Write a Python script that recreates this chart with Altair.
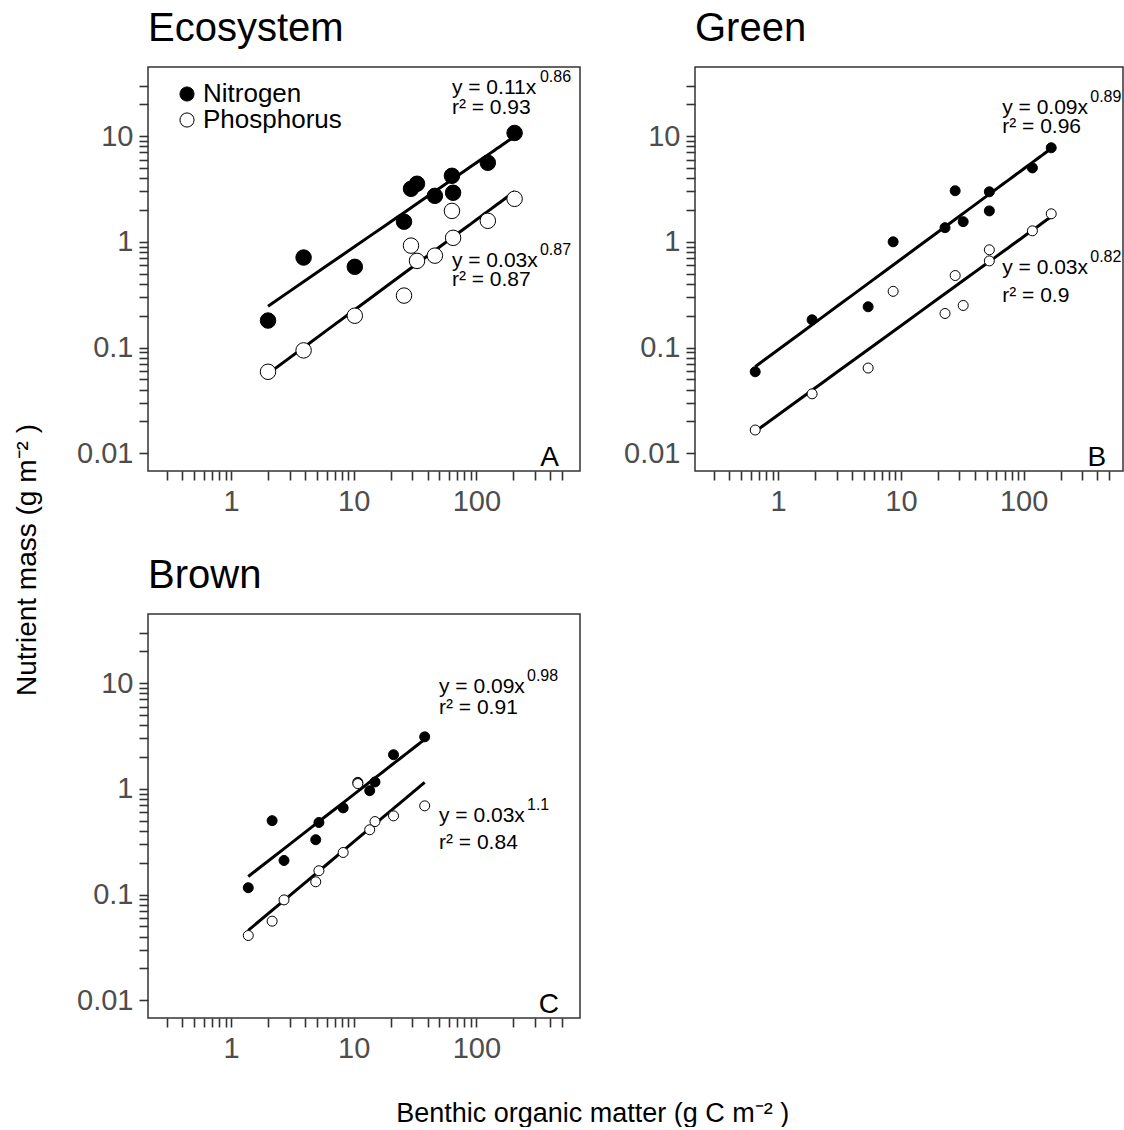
import altair as alt
import pandas as pd

FONT = "Liberation Sans, Arial, sans-serif"

# ---------------- data ----------------
# Panel A: Ecosystem
eco_x = [2.0, 3.9, 10.2, 25.7, 29.3, 32.8, 45.9, 63.2, 64.6, 124, 205]
eco_n = [0.18, 0.71, 0.58, 1.55, 3.17, 3.54, 2.72, 4.21, 2.91, 5.59, 10.7]
eco_p = [0.059, 0.094, 0.20, 0.31, 0.92, 0.66, 0.74, 1.96, 1.09, 1.58, 2.55]

# Panel B: Green
green_x = [0.65, 1.89, 5.41, 8.65, 22.9, 27.7, 32.2, 52.6, 52.6, 118, 168]
green_n = [0.059, 0.183, 0.243, 1.0, 1.36, 3.04, 1.55, 2.97, 1.96, 5.0, 7.75]
green_p = [0.0166, 0.0365, 0.064, 0.34, 0.21, 0.48, 0.25, 0.84, 0.66, 1.27, 1.84]

# Panel C: Brown
brown_x = [1.38, 2.16, 2.7, 4.9, 5.2, 8.2, 10.8, 13.5, 14.9, 21.1, 37.9]
brown_n = [0.116, 0.50, 0.21, 0.33, 0.48, 0.66, 1.15, 0.96, 1.16, 2.1, 3.1]
brown_p = [0.041, 0.056, 0.089, 0.132, 0.168, 0.25, 1.12, 0.41, 0.49, 0.555, 0.69]

panels = ["Ecosystem", "Green", "Brown"]
letters = ["A", "B", "C"]
nutrients = ["Nitrogen", "Phosphorus"]

# equation annotations (anchor in data units)
eq_panel = ["Ecosystem", "Ecosystem", "Green", "Green", "Brown", "Brown"]
eq_x = [63.2, 63.2, 67, 67, 49.6, 49.6]
eq_y1 = [25.1, 0.58, 16.3, 0.50, 8.1, 0.49]
eq_y2 = [16.3, 0.384, 10.7, 0.27, 5.1, 0.27]
eq_text = ["y = 0.11x", "y = 0.03x", "y = 0.09x", "y = 0.03x", "y = 0.09x", "y = 0.03x"]
eq_exp = ["0.86", "0.87", "0.89", "0.82", "0.98", "1.1"]
eq_r2 = ["r\u00b2 = 0.93", "r\u00b2 = 0.87", "r\u00b2 = 0.96", "r\u00b2 = 0.9", "r\u00b2 = 0.91", "r\u00b2 = 0.84"]

letter_x = 471
letter_y = 0.0076

x_ticks = [0.3, 0.4, 0.5, 0.6, 0.7, 0.8, 0.9,
           1, 2, 3, 4, 5, 6, 7, 8, 9,
           10, 20, 30, 40, 50, 60, 70, 80, 90,
           100, 200, 300, 400, 500]
y_ticks = [0.01, 0.02, 0.03, 0.04, 0.05, 0.06, 0.07, 0.08, 0.09,
           0.1, 0.2, 0.3, 0.4, 0.5, 0.6, 0.7, 0.8, 0.9,
           1, 2, 3, 4, 5, 6, 7, 8, 9,
           10, 20, 30]
x_labels = [1, 10, 100]
y_labels = [0.01, 0.1, 1, 10]

X_MIN, X_MAX = 0.21, 700
Y_MIN, Y_MAX = 0.0068, 45

y_title = "Nutrient mass (g m\u207b\u00b2 )"
x_title = "Benthic organic matter (g C m\u207b\u00b2 )"

# ---------------- tables ----------------
rows = []
for name, xs, ns, ps in [("Ecosystem", eco_x, eco_n, eco_p),
                         ("Green", green_x, green_n, green_p),
                         ("Brown", brown_x, brown_n, brown_p)]:
    for xv, yv in zip(xs, ns):
        rows.append({"panel": name, "nutrient": "Nitrogen", "x": xv, "y": yv})
    for xv, yv in zip(xs, ps):
        rows.append({"panel": name, "nutrient": "Phosphorus", "x": xv, "y": yv})
df = pd.DataFrame(rows)

ann = pd.DataFrame({"panel": eq_panel, "x": eq_x, "y1": eq_y1, "y2": eq_y2,
                    "eq": eq_text, "exp": eq_exp, "r2": eq_r2})


def lab_expr(vals):
    arr = ",".join(str(v) for v in vals)
    return f"indexof([{arr}], datum.value) >= 0 ? '' + datum.value : ''"


common_axis = dict(title=None, grid=False, domain=False, tickSize=9, tickWidth=1.6,
                   tickColor="#333333", labelFontSize=29, labelColor="#4d4d4d",
                   labelFont=FONT, labelOverlap=False, labelFlush=False)
x_axis = alt.Axis(values=x_ticks, labelExpr=lab_expr(x_labels), labelPadding=7, **common_axis)
y_axis = alt.Axis(values=y_ticks, labelExpr=lab_expr(y_labels), labelPadding=6, **common_axis)

fill_scale = alt.Scale(domain=nutrients, range=["black", "white"])


def make_panel(name, letter, width, x_max, size, legend):
    xs = alt.Scale(type="log", domain=[X_MIN, x_max], nice=False)
    ys = alt.Scale(type="log", domain=[Y_MIN, Y_MAX], nice=False)
    X = alt.X("x:Q", scale=xs, axis=x_axis)
    pdata = df[df.panel == name]
    a = ann[ann.panel == name]

    lines = alt.Chart(pdata).transform_regression(
        "x", "y", method="pow", groupby=["nutrient"]
    ).mark_line(color="black", strokeWidth=3).encode(
        x=X, y=alt.Y("y:Q", scale=ys, axis=y_axis), detail="nutrient:N")

    pts = alt.Chart(pdata).mark_circle(size=size, stroke="black", strokeWidth=1, opacity=1).encode(
        x=X, y=alt.Y("y:Q", scale=ys, axis=y_axis),
        fill=alt.Fill("nutrient:N", scale=fill_scale, legend=legend))

    t1 = alt.Chart(a).mark_text(align="left", baseline="alphabetic", fontSize=21,
                                font=FONT, color="black").encode(
        x=X, y=alt.Y("y1:Q", scale=ys, axis=y_axis), text="eq:N")
    t2 = alt.Chart(a).mark_text(align="left", baseline="alphabetic", fontSize=21,
                                font=FONT, color="black").encode(
        x=X, y=alt.Y("y2:Q", scale=ys, axis=y_axis), text="r2:N")
    t3 = alt.Chart(a).mark_text(align="left", baseline="alphabetic", fontSize=16, dx=88, dy=-12,
                                font=FONT, color="black").encode(
        x=X, y=alt.Y("y1:Q", scale=ys, axis=y_axis), text="exp:N")

    let = alt.Chart(pd.DataFrame({"x": [letter_x], "y": [letter_y], "t": [letter]})).mark_text(
        align="right", baseline="alphabetic", fontSize=28, font=FONT, color="black").encode(
        x=X, y=alt.Y("y:Q", scale=ys, axis=y_axis), text="t:N")

    return alt.layer(lines, pts, t1, t2, t3, let).properties(
        width=width, height=404,
        title=alt.TitleParams(name, anchor="start", frame="group", fontSize=40, font=FONT,
                              fontWeight="normal", color="black", offset=18))


legend_a = alt.Legend(title=None, orient="none", legendX=26, legendY=14, symbolType="circle",
                      symbolSize=200, symbolStrokeColor="black", symbolStrokeWidth=1,
                      labelFontSize=26, labelFont=FONT, labelColor="black", labelOffset=3,
                      rowPadding=0, padding=0)

pA = make_panel("Ecosystem", "A", 432, X_MAX, 240, legend_a)
pB = make_panel("Green", "B", 428, 646, 100, None)
pC = make_panel("Brown", "C", 432, X_MAX, 100, None)

row1 = alt.hconcat(pA, pB, spacing=41).resolve_scale(fill="independent").resolve_legend(fill="independent")
inner = alt.vconcat(row1, pC, spacing=38).resolve_scale(fill="independent").resolve_legend(
    fill="independent").properties(
    title=alt.TitleParams(y_title, orient="left", anchor="middle", fontSize=28, font=FONT,
                          fontWeight="normal", color="black", offset=34, dx=-24))

chart = alt.vconcat(inner).resolve_scale(fill="independent").resolve_legend(fill="independent").properties(
    title=alt.TitleParams(x_title, orient="bottom", anchor="middle", fontSize=27, font=FONT,
                          fontWeight="normal", color="black", offset=37, dx=24),
    padding={"left": 13, "right": 0, "top": 8, "bottom": 0},
    background="white",
).configure_view(stroke="#333333", strokeWidth=1.5)

chart.save("out.html", embed_options={"renderer": "svg", "actions": False})
